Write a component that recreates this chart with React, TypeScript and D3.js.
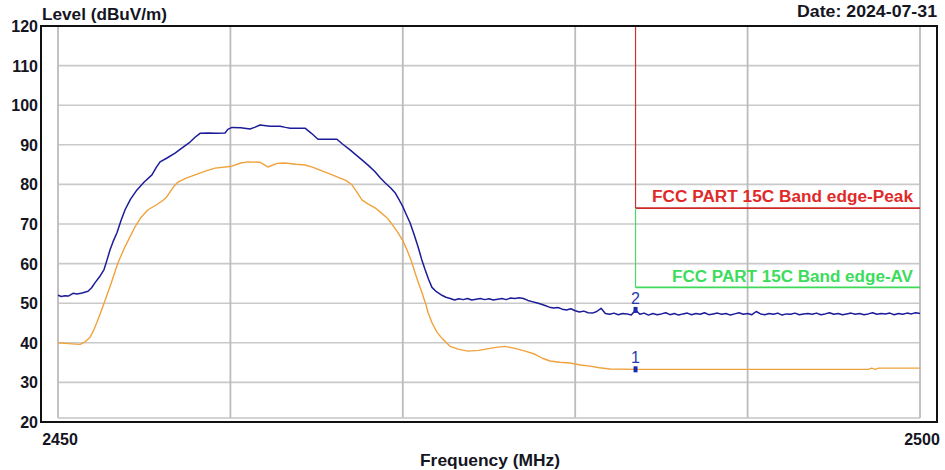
import React from "react";
import * as d3 from "d3";

const yTicks = [20, 30, 40, 50, 60, 70, 80, 90, 100, 110, 120];
const xGrid = [2460, 2470, 2480, 2490];
const xTickLabels = [2450, 2500];

// Peak trace (blue): [MHz, dBuV/m]
const peakTrace: [number, number][] = [
  [2450.0, 52.0], [2450.2, 51.7], [2450.4, 51.9], [2450.6, 51.8], [2450.87, 52.5], [2451.1, 52.3],
  [2451.4, 52.6], [2451.74, 53.0], [2451.95, 53.9], [2452.15, 55.2], [2452.4, 56.6], [2452.67, 58.5],
  [2452.85, 61.0], [2453.02, 63.5], [2453.2, 65.6], [2453.42, 67.8], [2453.65, 70.8], [2453.89, 73.6],
  [2454.2, 76.2], [2454.58, 78.6], [2455.0, 80.6], [2455.45, 82.4], [2455.7, 84.3], [2455.92, 85.7],
  [2456.3, 86.6], [2456.79, 87.9], [2457.2, 89.2], [2457.66, 90.7], [2457.95, 91.9], [2458.24, 92.9],
  [2458.7, 93.0], [2459.2, 92.9], [2459.69, 93.0], [2459.85, 93.9], [2460.09, 94.4], [2460.6, 94.3],
  [2461.14, 94.0], [2461.4, 94.4], [2461.72, 95.0], [2462.3, 94.7], [2462.88, 94.7], [2463.2, 94.4],
  [2463.46, 94.2], [2464.33, 94.2], [2464.7, 92.9], [2465.08, 91.4], [2466.18, 91.4], [2466.5, 90.2],
  [2466.94, 88.7], [2467.3, 87.4], [2467.63, 86.2], [2468.0, 84.8], [2468.39, 83.2], [2468.7, 81.6],
  [2468.97, 80.4], [2469.3, 79.1], [2469.55, 77.9], [2469.8, 76.0], [2470.01, 74.3], [2470.2, 72.4],
  [2470.42, 70.3], [2470.65, 67.4], [2470.88, 64.3], [2471.1, 61.0], [2471.29, 58.5], [2471.5, 56.0],
  [2471.69, 54.0], [2471.95, 52.9], [2472.27, 52.0], [2472.5, 51.5],
  [2472.75, 51.2], [2473.0, 50.8], [2473.25, 51.1], [2473.5, 50.9], [2473.75, 51.2], [2474.0, 50.8],
  [2474.25, 51.0], [2474.5, 51.2], [2474.75, 50.9], [2475.0, 51.1], [2475.25, 50.8], [2475.5, 51.0],
  [2475.75, 51.2], [2476.0, 50.9], [2476.25, 51.3], [2476.5, 51.2], [2476.75, 51.4], [2477.0, 51.2],
  [2477.25, 50.7], [2477.5, 50.4], [2477.75, 50.1], [2478.0, 49.8], [2478.25, 49.4], [2478.5, 49.0],
  [2478.75, 48.8], [2479.0, 48.9], [2479.25, 48.5], [2479.5, 48.3], [2479.75, 48.6], [2480.0, 48.1],
  [2480.25, 47.8], [2480.5, 48.0], [2480.75, 47.6], [2481.0, 47.5], [2481.25, 47.9], [2481.5, 48.7],
  [2481.75, 47.4], [2482.0, 47.2], [2482.25, 47.5], [2482.5, 47.1], [2482.75, 47.4], [2483.0, 47.3],
  [2483.25, 47.0], [2483.5, 48.3], [2483.75, 47.2], [2484.0, 47.5], [2484.25, 47.0], [2484.5, 47.4],
  [2484.75, 47.1], [2485.0, 47.3], [2485.25, 47.6], [2485.5, 47.1], [2485.75, 47.4], [2486.0, 47.0],
  [2486.25, 47.3], [2486.5, 47.5], [2486.75, 47.1], [2487.0, 47.4], [2487.25, 47.2], [2487.5, 47.6],
  [2487.75, 47.1], [2488.0, 47.3], [2488.25, 47.5], [2488.5, 47.2], [2488.75, 47.4], [2489.0, 47.0],
  [2489.25, 47.3], [2489.5, 47.6], [2489.75, 47.2], [2490.0, 47.4], [2490.25, 47.1], [2490.5, 47.9],
  [2490.75, 47.3], [2491.0, 47.1], [2491.25, 47.4], [2491.5, 47.2], [2491.75, 47.5], [2492.0, 47.0],
  [2492.25, 47.3], [2492.5, 47.2], [2492.75, 47.5], [2493.0, 47.1], [2493.25, 47.3], [2493.5, 47.4],
  [2493.75, 47.2], [2494.0, 47.5], [2494.25, 47.1], [2494.5, 47.3], [2494.75, 47.6], [2495.0, 47.2],
  [2495.25, 47.4], [2495.5, 47.1], [2495.75, 47.3], [2496.0, 47.5], [2496.25, 47.2], [2496.5, 47.4],
  [2496.75, 47.1], [2497.0, 47.3], [2497.25, 47.6], [2497.5, 47.2], [2497.75, 47.4], [2498.0, 47.3],
  [2498.25, 47.5], [2498.5, 47.1], [2498.75, 47.4], [2499.0, 47.2], [2499.25, 47.5], [2499.5, 47.3],
  [2499.75, 47.6], [2500.0, 47.4],
];

// Average trace (orange): [MHz, dBuV/m]
const avgTrace: [number, number][] = [
  [2450.0, 40.0], [2450.6, 39.8], [2451.28, 39.6], [2451.6, 40.3], [2451.86, 41.4], [2452.05, 43.0],
  [2452.26, 45.2], [2452.61, 49.2], [2453.02, 54.2], [2453.48, 60.2], [2453.89, 64.3], [2454.47, 69.3],
  [2454.8, 71.6], [2455.22, 73.6], [2455.7, 74.8], [2456.1, 76.0], [2456.3, 76.8], [2456.7, 79.4],
  [2456.96, 80.6], [2457.4, 81.5], [2457.95, 82.4], [2458.5, 83.3], [2459.11, 84.1], [2460.09, 84.6],
  [2460.6, 85.4], [2461.02, 85.7], [2461.7, 85.6], [2462.18, 84.4], [2462.7, 85.3], [2463.17, 85.4],
  [2463.8, 85.1], [2464.33, 84.9], [2464.8, 84.3], [2465.2, 83.6], [2465.8, 82.6], [2466.36, 81.6],
  [2466.7, 81.0], [2467.05, 79.9], [2467.35, 78.0], [2467.63, 76.1], [2468.0, 75.0], [2468.39, 74.1],
  [2468.7, 73.0], [2469.08, 71.6], [2469.4, 69.8], [2469.72, 67.8], [2470.0, 65.8], [2470.24, 63.5],
  [2470.5, 60.6], [2470.71, 57.7], [2470.9, 55.2], [2471.11, 52.7], [2471.3, 50.2], [2471.46, 47.7],
  [2471.7, 45.0], [2471.98, 42.7], [2472.3, 41.0], [2472.74, 39.1], [2473.2, 38.4], [2473.78, 37.9],
  [2474.4, 38.1], [2475.06, 38.6], [2475.5, 38.9], [2475.93, 39.1], [2476.51, 38.6], [2477.1, 37.9],
  [2477.67, 37.1], [2478.1, 36.1], [2478.54, 35.4], [2479.1, 35.1], [2479.7, 34.9], [2480.3, 34.4],
  [2480.86, 34.1], [2481.4, 33.7], [2482.02, 33.4], [2483.58, 33.3], [2486.0, 33.3], [2490.0, 33.3],
  [2494.0, 33.3], [2497.0, 33.3], [2497.2, 33.6], [2497.4, 33.3], [2497.6, 33.6], [2498.0, 33.6],
  [2500.0, 33.6],
];

const peakLimitLevel = 74;
const avgLimitLevel = 54;
const limitStartFreq = 2483.5;
const peakLimitLabel = "FCC PART 15C Band edge-Peak";
const avgLimitLabel = "FCC PART 15C Band edge-AV";

const markerFreqs = [2483.5, 2483.5];
const markerLevels = [33.3, 48.3];
const markerNames = ["1", "2"];

const yTitle = "Level (dBuV/m)";
const xTitle = "Frequency (MHz)";
const dateText = "Date: 2024-07-31";

export default function App() {
  const W = 945, H = 470;
  const plotLeft = 58, plotRight = 920, plotTop = 26, plotBottom = 422;
  const frameLeft = 41, frameRight = 937;
  const x = d3.scaleLinear().domain([2450, 2500]).range([plotLeft, plotRight]);
  const y = d3.scaleLinear().domain([20, 120]).range([plotBottom, plotTop]);
  const line = d3.line<[number, number]>().x(d => x(d[0])).y(d => y(d[1]));
  const font = "'Liberation Sans', Arial, sans-serif";
  const textCol = "#15151f";

  return (
    <svg width={W} height={H} style={{ position: "absolute", left: 0, top: 0, background: "#fff" }} fontFamily={font}>
      <rect x={0} y={0} width={W} height={H} fill="#fff" />
      {/* horizontal grid */}
      {yTicks.filter(t => t > 20 && t < 120).map(t => (
        <line key={"h" + t} x1={plotLeft} x2={plotRight} y1={y(t)} y2={y(t)} stroke="#c9c9c9" strokeWidth={1.6} />
      ))}
      {/* vertical grid */}
      {xGrid.map(f => (
        <line key={"v" + f} x1={x(f)} x2={x(f)} y1={plotTop} y2={418} stroke="#bcbcbc" strokeWidth={1.8} />
      ))}
      {/* inner plot border */}
      <line x1={plotLeft} x2={plotLeft} y1={plotTop} y2={418} stroke="#bcbcbc" strokeWidth={1.8} />
      <line x1={plotRight} x2={plotRight} y1={plotTop} y2={418} stroke="#bcbcbc" strokeWidth={1.8} />
      <line x1={plotLeft} x2={plotRight} y1={418} y2={418} stroke="#c4c4c4" strokeWidth={1.6} />

      {/* limit lines */}
      <line x1={x(limitStartFreq)} x2={x(limitStartFreq)} y1={plotTop} y2={y(peakLimitLevel)} stroke="#c83434" strokeWidth={1.2} />
      <line x1={x(limitStartFreq)} x2={x(2500)} y1={y(peakLimitLevel)} y2={y(peakLimitLevel)} stroke="#cc2a2a" strokeWidth={1.6} />
      <line x1={x(limitStartFreq)} x2={x(limitStartFreq)} y1={y(peakLimitLevel)} y2={y(avgLimitLevel)} stroke="#4cd964" strokeWidth={1.2} />
      <line x1={x(limitStartFreq)} x2={x(2500)} y1={y(avgLimitLevel)} y2={y(avgLimitLevel)} stroke="#3fd95a" strokeWidth={1.6} />
      <text x={913} y={y(peakLimitLevel) - 6} textAnchor="end" fontSize={16} fontWeight="bold" fill="#e02a2a" textLength={261} lengthAdjust="spacingAndGlyphs">{peakLimitLabel}</text>
      <text x={913} y={y(avgLimitLevel) - 5} textAnchor="end" fontSize={16} fontWeight="bold" fill="#3cdc5c" textLength={241} lengthAdjust="spacingAndGlyphs">{avgLimitLabel}</text>

      {/* traces */}
      <path d={line(avgTrace) || ""} fill="none" stroke="#f0a23c" strokeWidth={1.4} strokeLinejoin="round" />
      <path d={line(peakTrace) || ""} fill="none" stroke="#1c1c9a" strokeWidth={1.5} strokeLinejoin="round" />

      {/* markers */}
      {markerFreqs.map((f, i) => (
        <g key={"m" + i}>
          <rect x={x(f) - 2} y={y(markerLevels[i]) - 3} width={4} height={6} fill="#1a2aa8" />
          <text x={x(f)} y={y(markerLevels[i]) - 6} textAnchor="middle" fontSize={16} fill="#2a3aa8">{markerNames[i]}</text>
        </g>
      ))}

      {/* frame */}
      <rect x={frameLeft} y={plotTop} width={frameRight - frameLeft} height={plotBottom - plotTop} fill="none" stroke="#111" strokeWidth={2} />

      {/* y tick labels */}
      {yTicks.map(t => (
        <text key={"yl" + t} x={38} y={y(t) + 6} textAnchor="end" fontSize={16} fontWeight="bold" fill={textCol}>{t}</text>
      ))}
      {/* x tick labels */}
      {xTickLabels.map(f => (
        <text key={"xl" + f} x={x(f) + 2} y={445} textAnchor="middle" fontSize={16} fontWeight="bold" fill={textCol}>{f}</text>
      ))}

      <text x={42} y={20} fontSize={16} fontWeight="bold" fill={textCol} textLength={125} lengthAdjust="spacingAndGlyphs">{yTitle}</text>
      <text x={937} y={17} textAnchor="end" fontSize={16} fontWeight="bold" fill={textCol} textLength={140} lengthAdjust="spacingAndGlyphs">{dateText}</text>
      <text x={490} y={466} textAnchor="middle" fontSize={17} fontWeight="bold" fill={textCol} textLength={140} lengthAdjust="spacingAndGlyphs">{xTitle}</text>
    </svg>
  );
}
